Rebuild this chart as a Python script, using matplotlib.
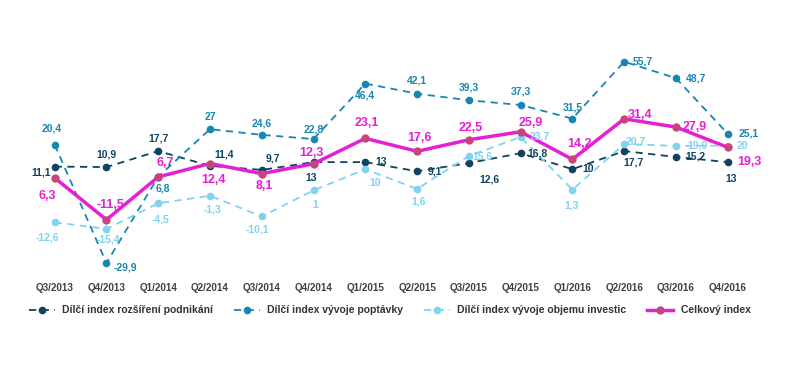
import numpy as np
import matplotlib.pyplot as plt

plt.rcParams['font.family'] = ['Liberation Sans', 'DejaVu Sans']

quarters = ['Q3/2013', 'Q4/2013', 'Q1/2014', 'Q2/2014', 'Q3/2014', 'Q4/2014', 'Q1/2015',
            'Q2/2015', 'Q3/2015', 'Q4/2015', 'Q1/2016', 'Q2/2016', 'Q3/2016', 'Q4/2016']

podnikani = [11.1, 10.9, 17.7, 11.4, 9.7, 13, 13, 9.1, 12.6, 16.8, 10, 17.7, 15.2, 13]
poptavka = [20.4, -29.9, 6.8, 27, 24.6, 22.8, 46.4, 42.1, 39.3, 37.3, 31.5, 55.7, 48.7, 25.1]
investice = [-12.6, -15.4, -4.5, -1.3, -10.1, 1, 10, 1.6, 15.6, 23.7, 1.3, 20.7, 19.9, 20]
celkovy = [6.3, -11.5, 6.7, 12.4, 8.1, 12.3, 23.1, 17.6, 22.5, 25.9, 14.2, 31.4, 27.9, 19.3]

names = ['Dílčí index rozšíření podnikání', 'Dílčí index vývoje poptávky',
         'Dílčí index vývoje objemu investic', 'Celkový index']

# label offsets in pixels (dx, dy), dy up
off_pod = [(-14, -6), (0, 13), (0, 13), (14, 11), (11, 11), (-2, -16), (16, 0),
           (18, 0), (21, -16), (17, 0), (16, 0), (9, -11), (19, 0), (3, -17)]
off_pop = [(-3, 16), (19, -4), (5, -12), (0, 12), (0, 11), (0, 10), (0, -12),
           (0, 13), (0, 13), (0, 13), (0, 11), (19, 0), (20, 0), (21, 0)]
off_inv = [(-7, -15), (2, -11), (2, -16), (2, -14), (-4, -13), (2, -15), (10, -14),
           (1, -13), (14, 0), (19, 0), (-1, -16), (12, 3), (21, 0), (15, 0)]
off_cel = [(-7, -18), (4, 15), (7, 14), (3, -16), (3, -12), (-2, 11), (1, 15),
           (2, 13), (2, 12), (10, 9), (7, 15), (16, 4), (19, 0), (22, -15)]

c_pod = '#0f4360'
c_pop = '#1886b0'
c_inv = '#80d2f0'
c_cel = '#e41fd6'

fig = plt.figure(figsize=(8, 3.68), dpi=100)
ax = fig.add_axes([0.036, 0.2527, 0.906, 0.671])
x = np.arange(len(quarters))

series = [
    (podnikani, c_pod, off_pod),
    (poptavka, c_pop, off_pop),
    (investice, c_inv, off_inv),
]
handles = []
for vals, col, offs in series:
    h, = ax.plot(x, vals, color=col, lw=1.3, ls=(0, (4, 3)), marker='o', ms=5.5,
                 markeredgewidth=0)
    handles.append(h)
    for xi, v, (dx, dy) in zip(x, vals, offs):
        ax.annotate(f'{v:g}'.replace('.', ','), (xi, v), xytext=(dx * 0.72, dy * 0.72),
                    textcoords='offset points', ha='center', va='center',
                    fontsize=7.5, fontweight='bold', color=col)

h, = ax.plot(x, celkovy, color=c_cel, lw=2.5, marker='o', ms=6,
             markerfacecolor='#c8457a', markeredgewidth=0)
handles.append(h)
for xi, v, (dx, dy) in zip(x, celkovy, off_cel):
    ax.annotate(f'{v:g}'.replace('.', ','), (xi, v), xytext=(dx * 0.72, dy * 0.72),
                textcoords='offset points', ha='center', va='center',
                fontsize=9, fontweight='bold', color=c_cel)

ax.set_xlim(-0.5, 13.5)
ax.set_ylim(-35, 70)
ax.set_yticks([])
ax.set_xticks(x)
ax.set_xticklabels(quarters, fontsize=7.1, fontweight='bold', color='#404040')
ax.tick_params(axis='x', length=0, pad=6)
for s in ax.spines.values():
    s.set_visible(False)

leg = fig.legend(handles, names, loc='center', bbox_to_anchor=(0.487, 0.157), ncol=4,
                 frameon=False, handlelength=2.5, columnspacing=2.0,
                 handletextpad=0.7, labelcolor='#333333',
                 prop={'size': 7.5, 'weight': 'bold'})

fig.savefig('out.png', dpi=100)
